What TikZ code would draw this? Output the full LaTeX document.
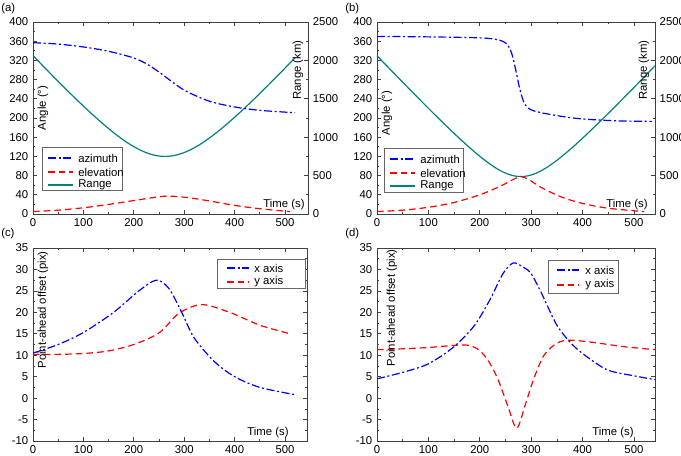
\documentclass[tikz,border=0pt]{standalone}
\usepackage{fontspec}
\setmainfont{Liberation Sans}
\begin{document}
\begin{tikzpicture}[x=0.75pt,y=-0.75pt,font=\fontsize{8.5}{10}\selectfont,
  frame/.style={draw=black!75,line width=0.6pt},
  tk/.style={draw=black!75,line width=0.5pt},
  azi/.style={blue,line width=0.9pt,dash pattern=on 6pt off 2pt on 1.5pt off 2pt},
  ele/.style={red,line width=0.9pt,dash pattern=on 5pt off 3pt},
  rng/.style={color={rgb,255:red,0;green,128;blue,128},line width=0.9pt},
  lg/.style={draw=black!60,fill=white,line width=0.5pt},
  lab/.style={inner sep=0pt}]
\useasboundingbox (0,0) rectangle (681,455);
% panel letters
\node[lab,anchor=north west] (la) at (1,3) {(a)};
\node[lab,anchor=north west] (lb) at (345,3) {(b)};
\node[lab,anchor=north west] (lc) at (1,228) {(c)};
\node[lab,anchor=north west] (ld) at (345,228) {(d)};

% ================= panel (a)
\begin{scope}[shift={(33,214)},x=0.378pt,y=0.36pt]
\draw[frame] (0,0) rectangle (546,400);
\foreach \t in {0,100,...,500}{\draw[tk] (\t,0)--++(0pt,3pt) (\t,400)--++(0pt,-3pt); \node[below] at (\t,0) {\t};}
\foreach \t in {50,150,...,450}{\draw[tk] (\t,0)--++(0pt,1.5pt) (\t,400)--++(0pt,-1.5pt);}
\foreach \v in {0,40,...,400}{\draw[tk] (0,\v)--++(3pt,0pt); \node[left] at (0,\v) {\v};}
\foreach \v in {20,60,...,380}{\draw[tk] (0,\v)--++(1.5pt,0pt);}
\foreach \r in {0,500,...,2500}{\draw[tk] (546,\r*0.16)--++(-3pt,0pt); \node[right] at (546,\r*0.16) {\r};}
\foreach \r in {250,750,...,2250}{\draw[tk] (546,\r*0.16)--++(-1.5pt,0pt);}
\draw[rng] plot[domain=0:520,samples=80] (\x,{100*sqrt(1.44+(0.01173*(\x-262))^2)});
\draw[ele] plot[smooth] coordinates {(0,5)(50,8)(100,13)(150,20)(200,28)(260,37)(300,35)(340,29)(400,18)(450,11)(510,5)};
\draw[azi] plot[smooth] coordinates {(0,357)(50,354)(100,348)(150,339)(200,325)(230,310)(260,288)(300,258)(350,235)(400,223)(450,216)(520,211)};
\end{scope}
\node[lab,rotate=90] (ya) at (43,108) {Angle (°)};
\node[lab,rotate=90] (ra) at (298,70) {Range (km)};
\node[lab] (ta) at (284,205) {Time (s)};
\draw[lg] (42,147) rectangle (122,190);
\draw[azi] (48,158)--(73,158); \node[lab,anchor=west] (a1) at (78,158) {azimuth};
\draw[ele] (48,172)--(73,172); \node[lab,anchor=west] (a2) at (78,172) {elevation};
\draw[rng] (48,185)--(73,185); \node[lab,anchor=west] (a3) at (78,185) {Range};

% ================= panel (b)
\begin{scope}[shift={(377,214)},x=0.3854pt,y=0.36pt]
\draw[frame] (0,0) rectangle (541,400);
\foreach \t in {0,100,...,500}{\draw[tk] (\t,0)--++(0pt,3pt) (\t,400)--++(0pt,-3pt); \node[below] at (\t,0) {\t};}
\foreach \t in {50,150,...,450}{\draw[tk] (\t,0)--++(0pt,1.5pt) (\t,400)--++(0pt,-1.5pt);}
\foreach \v in {0,40,...,400}{\draw[tk] (0,\v)--++(3pt,0pt); \node[left] at (0,\v) {\v};}
\foreach \v in {20,60,...,380}{\draw[tk] (0,\v)--++(1.5pt,0pt);}
\foreach \r in {0,500,...,2500}{\draw[tk] (541,\r*0.16)--++(-3pt,0pt); \node[right] at (541,\r*0.16) {\r};}
\foreach \r in {250,750,...,2250}{\draw[tk] (541,\r*0.16)--++(-1.5pt,0pt);}
\draw[rng] plot[domain=0:541,samples=90] (\x,{100*sqrt(0.6084+(0.01145*(\x-280))^2)});
\draw[ele] plot[smooth] coordinates {(0,5)(50,8)(100,14)(150,24)(200,40)(240,58)(265,72)(280,78)(295,72)(320,55)(360,35)(400,22)(450,12)(520,5)};
\draw[azi] plot[smooth] coordinates {(0,370)(100,369)(200,367)(235,363)(252,355)(262,335)(270,300)(278,260)(288,228)(305,215)(350,205)(400,198)(470,194)(535,193)};
\end{scope}
\node[lab,rotate=90] (yb) at (387,113) {Angle (°)};
\node[lab,rotate=90] (rb) at (644,70) {Range (km)};
\node[lab] (tb) at (627,205) {Time (s)};
\draw[lg] (384,148) rectangle (463,192);
\draw[azi] (390,159)--(415,159); \node[lab,anchor=west] (b1) at (420,159) {azimuth};
\draw[ele] (390,173)--(415,173); \node[lab,anchor=west] (b2) at (420,173) {elevation};
\draw[rng] (390,186)--(415,186); \node[lab,anchor=west] (b3) at (420,186) {Range};

% ================= panel (c)
\begin{scope}[shift={(33,398.1)},x=0.378pt,y=3.217pt]
\draw[frame] (0,-10) rectangle (544,35);
\foreach \t in {0,100,...,500}{\draw[tk] (\t,-10)--++(0pt,3pt) (\t,35)--++(0pt,-3pt); \node[below] at (\t,-10) {\t};}
\foreach \t in {50,150,...,450}{\draw[tk] (\t,-10)--++(0pt,1.5pt) (\t,35)--++(0pt,-1.5pt);}
\foreach \v in {-10,-5,...,35}{\draw[tk] (0,\v)--++(3pt,0pt) (544,\v)--++(-3pt,0pt); \node[left] at (0,\v) {\v};}
\foreach \v in {-7.5,-2.5,...,32.5}{\draw[tk] (0,\v)--++(1.5pt,0pt) (544,\v)--++(-1.5pt,0pt);}
\draw[ele] plot[smooth] coordinates {(0,10.2)(50,10.2)(100,10.4)(150,11)(200,12.5)(250,15.2)(290,19.8)(335,21.8)(390,20)(450,17)(510,15)};
\draw[azi] plot[smooth] coordinates {(0,10.5)(50,12.5)(100,15.3)(160,20)(210,25)(245,27.5)(270,25.5)(295,20)(320,14)(360,8.5)(400,5)(450,2.5)(520,0.8)};
\end{scope}
\node[lab,rotate=90] (yc) at (43,310) {Point-ahead offset (pix)};
\node[lab] (tc) at (268,433) {Time (s)};
\draw[lg] (217,259) rectangle (305,288);
\draw[azi] (227,268)--(249,268); \node[lab,anchor=west] (c1) at (254,268) {x axis};
\draw[ele] (227,282)--(249,282); \node[lab,anchor=west] (c2) at (254,282) {y axis};

% ================= panel (d)
\begin{scope}[shift={(377,398.1)},x=0.3854pt,y=3.217pt]
\draw[frame] (0,-10) rectangle (541,35);
\foreach \t in {0,100,...,500}{\draw[tk] (\t,-10)--++(0pt,3pt) (\t,35)--++(0pt,-3pt); \node[below] at (\t,-10) {\t};}
\foreach \t in {50,150,...,450}{\draw[tk] (\t,-10)--++(0pt,1.5pt) (\t,35)--++(0pt,-1.5pt);}
\foreach \v in {-10,-5,...,35}{\draw[tk] (0,\v)--++(3pt,0pt) (541,\v)--++(-3pt,0pt); \node[left] at (0,\v) {\v};}
\foreach \v in {-7.5,-2.5,...,32.5}{\draw[tk] (0,\v)--++(1.5pt,0pt) (541,\v)--++(-1.5pt,0pt);}
\draw[ele] plot[smooth] coordinates {(0,11.3)(50,11.5)(100,11.8)(170,12.4)(195,11.5)(215,9)(235,4.5)(255,-2)(272,-7)(290,-1)(305,4.5)(325,10)(350,12.8)(375,13.5)(420,13)(480,12)(541,11.3)};
\draw[azi] plot[smooth] coordinates {(0,4.5)(50,6)(100,8)(150,12)(190,17)(220,23)(245,29)(265,31.5)(285,30.5)(300,29)(320,24.5)(350,17)(380,12.5)(410,9.5)(450,6.5)(500,5.2)(541,4.3)};
\end{scope}
\node[lab,rotate=90] (yd) at (392,308) {Point-ahead offset (pix)};
\node[lab] (td) at (613,433) {Time (s)};
\draw[lg] (548,260) rectangle (618,293);
\draw[azi] (557,270)--(579,270); \node[lab,anchor=west] (d1) at (585,270) {x axis};
\draw[ele] (557,285)--(579,285); \node[lab,anchor=west] (d2) at (585,285) {y axis};
\end{tikzpicture}
\end{document}
